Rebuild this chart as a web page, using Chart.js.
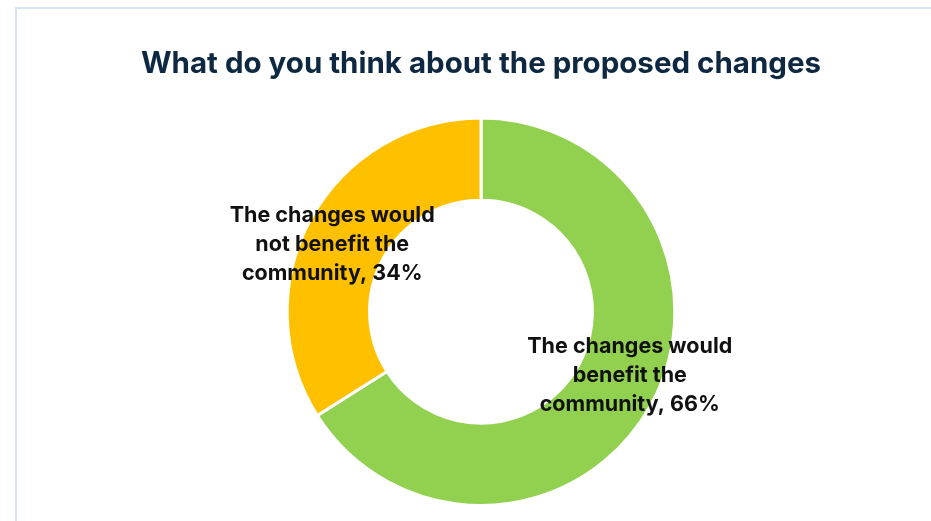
<!DOCTYPE html>
<html>
<head>
<meta charset="utf-8">
<script src="https://cdn.jsdelivr.net/npm/chart.js@4"></script>
<style>
    html, body { margin: 0; padding: 0; background: #fff; overflow: hidden; }
    #frame {
        position: absolute; left: 15px; top: 7px; right: -10px; bottom: -10px;
        border: 2px solid #d6e4f4;
    }
    #wrap { position: absolute; left: 0; top: 0; width: 931px; height: 521px; }
</style>
</head>
<body>
<div id="frame"></div>
<div id="wrap"><canvas id="donut" width="931" height="521"></canvas></div>
<script>
const chartTitle = 'What do you think about the proposed changes';
const categories = ['The changes would benefit the community', 'The changes would not benefit the community'];
const labelLines = [
    ['The changes would', 'benefit the', 'community, 66%'],
    ['The changes would', 'not benefit the', 'community, 34%']
];
const shares = [66, 34];
const sliceColors = ['#92D050', '#FFC000'];

// Beschriftungen in der Mitte des Rings
const sliceLabels = {
    id: 'sliceLabels',
    afterDatasetsDraw(chart) {
        const ctx = chart.ctx;
        const meta = chart.getDatasetMeta(0);
        ctx.save();
        ctx.font = 'bold 21.5px Inter, "Open Sans", sans-serif';
        ctx.fillStyle = '#111111';
        ctx.textAlign = 'center';
        ctx.textBaseline = 'middle';
        meta.data.forEach((arc, i) => {
            const mid = (arc.startAngle + arc.endAngle) / 2 - 0.087;
            const r = (arc.innerRadius + arc.outerRadius) / 2 + 10;
            const x = arc.x + Math.cos(mid) * r;
            const y = arc.y + Math.sin(mid) * r - 2;
            const lines = labelLines[i];
            lines.forEach((line, j) => {
                ctx.fillText(line, x, y + (j - (lines.length - 1) / 2) * 29);
            });
        });
        ctx.restore();
    }
};

new Chart(document.getElementById('donut'), {
    type: 'doughnut',
    data: {
        labels: categories,
        datasets: [{
            data: shares,
            backgroundColor: sliceColors,
            borderColor: '#ffffff',
            borderWidth: 3,
            hoverOffset: 0
        }]
    },
    options: {
        responsive: false,
        animation: false,
        cutout: '57.5%',
        layout: { padding: { left: 31, right: 0, bottom: 14 } },
        plugins: {
            legend: { display: false },
            tooltip: { enabled: false },
            title: {
                display: true,
                text: chartTitle,
                color: '#0E2841',
                font: { family: 'Inter, "Open Sans", sans-serif', size: 29.5, weight: 'bold' },
                padding: { top: 46, bottom: 35 }
            }
        }
    },
    plugins: [sliceLabels]
});
</script>
</body>
</html>
